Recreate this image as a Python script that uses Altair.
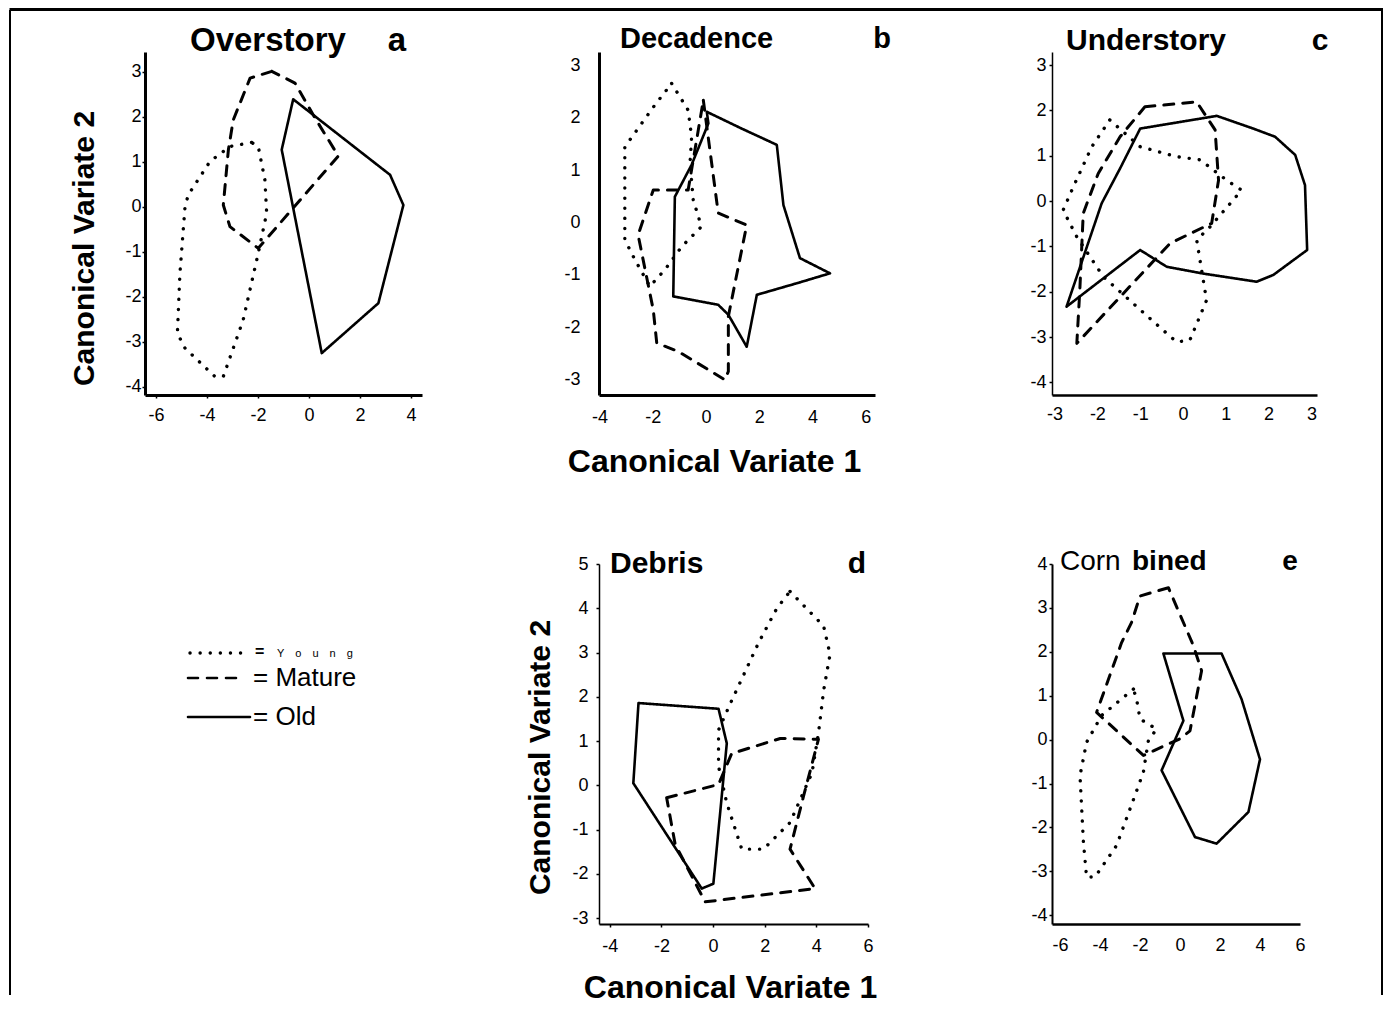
import altair as alt
import pandas as pd

FONT = "Liberation Sans"
GROUPS = ["Young", "Mature", "Old"]

# ---------------- data ----------------
# a  Overstory
a_young_x = [-2.25, -3.10, -3.88, -4.73, -4.86, -5.06, -5.16, -4.86, -3.69, -3.36, -2.58, -1.99, -1.66, -1.73, -1.99]
a_young_y = [1.43, 1.34, 1.01, 0.27, 0.01, -1.47, -2.81, -3.14, -3.77, -3.77, -2.51, -1.03, -0.14, 0.60, 1.34]
a_mature_x = [-1.46, -2.31, -2.97, -3.16, -3.36, -3.10, -1.99, 1.15, 0.24, -0.55]
a_mature_y = [3.01, 2.86, 1.93, 1.27, 0.04, -0.44, -0.92, 1.13, 1.97, 2.75]
a_old_x = [-0.62, 3.18, 3.70, 2.72, 0.50, -1.07]
a_old_y = [2.39, 0.71, 0.04, -2.14, -3.25, 1.27]

# b  Decadence
b_young_x = [-1.29, -0.67, -0.54, -0.60, -0.48, -0.17, -0.91, -1.54, -2.11, -2.67, -3.05, -3.05, -1.92]
b_young_y = [2.65, 2.14, 1.63, 1.13, 0.43, -0.08, -0.46, -0.90, -1.22, -0.71, -0.33, 1.44, 2.24]
b_mature_x = [-0.10, 0.46, 1.53, 0.84, 0.84, 0.71, -1.04, -1.85, -1.98, -2.55, -1.98, -0.67]
b_mature_y = [2.33, 0.18, -0.05, -1.79, -2.84, -3.00, -2.46, -2.30, -1.67, -0.24, 0.62, 0.62]
b_old_x = [0.03, 1.34, 2.66, 2.91, 3.53, 4.66, 3.41, 1.91, 1.53, 0.84, 0.46, -1.23, -1.17, -0.54, 0.09]
b_old_y = [2.11, 1.79, 1.48, 0.33, -0.68, -0.97, -1.16, -1.38, -2.37, -1.76, -1.57, -1.41, 0.49, 1.10, 1.89]

# c  Understory
c_young_x = [-1.71, -1.00, -0.15, 0.40, 1.02, 1.37, 0.63, 0.32, 0.55, 0.16, -0.15, -0.69, -1.86, -2.48, -2.80, -2.56, -2.13]
c_young_y = [1.79, 1.20, 0.98, 0.91, 0.46, 0.24, -0.57, -0.86, -2.19, -3.07, -3.11, -2.66, -1.67, -0.79, -0.20, 0.32, 1.20]
c_mature_x = [-0.89, 0.32, 0.75, 0.83, 0.67, -0.30, -2.48, -2.41, -2.33, -1.98, -1.47]
c_mature_y = [2.08, 2.19, 1.57, 0.46, -0.49, -0.93, -3.14, -1.96, -0.27, 0.61, 1.42]
c_old_x = [-1.00, 0.79, 1.64, 2.15, 2.62, 2.85, 2.90, 2.11, 1.72, 0.47, -0.38, -1.00, -2.72, -1.90, -1.47]
c_old_y = [1.60, 1.88, 1.60, 1.42, 1.02, 0.35, -1.08, -1.63, -1.78, -1.60, -1.45, -1.08, -2.33, -0.05, 0.72]

# d  Debris
d_young_x = [2.98, 4.28, 4.53, 4.28, 4.08, 3.83, 2.98, 1.95, 1.11, 0.53, 0.21, 0.21, 0.66, 1.76, 2.47]
d_young_y = [4.38, 3.60, 2.96, 2.14, 1.17, 0.28, -0.84, -1.44, -1.44, -0.40, 0.43, 1.25, 1.84, 3.22, 4.00]
d_mature_x = [-1.80, 0.21, 0.72, 2.60, 4.08, 3.50, 2.98, 3.95, -0.31, -1.47]
d_mature_y = [-0.28, 0.02, 0.72, 1.06, 1.04, -0.25, -1.44, -2.33, -2.63, -1.33]
d_old_x = [-2.89, 0.21, 0.53, 0.01, -0.44, -3.09]
d_old_y = [1.86, 1.73, 0.95, -2.22, -2.33, 0.05]

# e  Combined
e_young_x = [-2.33, -3.92, -4.67, -5.00, -4.83, -4.67, -4.25, -3.17, -2.25, -1.83, -1.58, -1.17, -2.00, -2.17]
e_young_y = [1.15, 0.55, -0.06, -0.82, -2.33, -3.13, -3.13, -2.41, -1.27, -0.74, -0.02, 0.24, 0.47, 0.92]
e_mature_x = [-0.58, -2.00, -2.42, -2.92, -4.17, -1.83, 0.00, 0.50, 1.08, 0.67]
e_mature_y = [3.46, 3.27, 2.67, 2.21, 0.62, -0.36, 0.02, 0.20, 1.57, 2.14]
e_old_x = [-0.83, 2.08, 3.08, 4.00, 3.42, 1.83, 0.75, -0.92, 0.17]
e_old_y = [1.96, 1.96, 0.92, -0.45, -1.65, -2.37, -2.22, -0.70, 0.43]

panel_titles = ["Overstory", "Decadence", "Understory", "Debris", "Combined"]
panel_letters = ["a", "b", "c", "d", "e"]
legend_labels = ["Young", "Mature", "Old"]
x_title = "Canonical Variate 1"
y_title = "Canonical Variate 2"

a_xticks = [-6, -4, -2, 0, 2, 4]
a_yticks = [-4, -3, -2, -1, 0, 1, 2, 3]
b_xticks = [-4, -2, 0, 2, 4, 6]
b_yticks = [-3, -2, -1, 0, 1, 2, 3]
c_xticks = [-3, -2, -1, 0, 1, 2, 3]
c_yticks = [-4, -3, -2, -1, 0, 1, 2, 3]
d_xticks = [-4, -2, 0, 2, 4, 6]
d_yticks = [-3, -2, -1, 0, 1, 2, 3, 4, 5]
e_xticks = [-6, -4, -2, 0, 2, 4, 6]
e_yticks = [-4, -3, -2, -1, 0, 1, 2, 3, 4]

DASHES = [[0.1, 10], [10, 9], [1, 0]]
WIDTHS = [3.4, 2.6, 2.6]


def poly_df(polys):
    rows = []
    for g, (xs, ys) in zip(GROUPS, polys):
        n = len(xs)
        for i in range(n + 1):
            rows.append({"g": g, "x": xs[i % n], "y": ys[i % n], "i": i})
    return pd.DataFrame(rows)


def one():
    return pd.DataFrame({"k": [0]})


def text_layer(t, x, y, size, weight="bold", align="left", baseline="middle"):
    return alt.Chart(pd.DataFrame({"t": [t]})).mark_text(
        align=align, baseline=baseline, font=FONT, fontSize=size,
        fontWeight=weight, color="black"
    ).encode(x=alt.value(x), y=alt.value(y), text="t:N")


def axis(values, dw, ts, lp, **kw):
    return alt.Axis(values=values, grid=False, domainColor="black", domainWidth=dw,
                    tickColor="black", tickWidth=1.5, tickSize=ts, ticks=ts > 0,
                    labelPadding=lp, labelColor="black", labelFont=FONT, labelFontSize=18,
                    labelFlush=False, labelOverlap=False,
                    labelExpr="toString(datum.value)",
                    titleFont=FONT, titleFontWeight="bold", titleColor="black", **kw)


def panel(polys, xdom, ydom, w, h, xax, yax, texts, extra=(), xt=None, yt=None):
    df = poly_df(polys)
    xk = dict(scale=alt.Scale(domain=xdom, nice=False, zero=False), axis=xax)
    yk = dict(scale=alt.Scale(domain=ydom, nice=False, zero=False), axis=yax)
    xk["title"] = xt if xt else None
    yk["title"] = yt if yt else None
    lines = alt.Chart(df).mark_line(color="black", strokeCap="round", strokeJoin="round").encode(
        x=alt.X("x:Q", **xk),
        y=alt.Y("y:Q", **yk),
        strokeDash=alt.StrokeDash("g:N", scale=alt.Scale(domain=GROUPS, range=DASHES), legend=None),
        strokeWidth=alt.StrokeWidth("g:N", scale=alt.Scale(domain=GROUPS, range=WIDTHS), legend=None),
        order="i:Q",
    )
    return alt.layer(lines, *texts, *extra).properties(width=w, height=h)


ytitle_kw = dict(titleFontSize=30, titleAngle=270, titleAlign="center", titleBaseline="bottom")
xtitle_kw = dict(titleFontSize=32, titleAlign="center", titleBaseline="top")

frame_a = [
    alt.Chart(one()).mark_rule(color="black", strokeWidth=3).encode(
        x=alt.value(-135.5), x2=alt.value(1238), y=alt.value(-42.5)),
    alt.Chart(one()).mark_rule(color="black", strokeWidth=2).encode(
        x=alt.value(-135), y=alt.value(-42), y2=alt.value(943)),
]
frame_c = [
    alt.Chart(one()).mark_rule(color="black", strokeWidth=2).encode(
        x=alt.value(330), y=alt.value(-42), y2=alt.value(943)),
]

pa = panel([(a_young_x, a_young_y), (a_mature_x, a_mature_y), (a_old_x, a_old_y)],
           [-6.43, 4.43], [-4.18, 3.44], 277, 343,
           axis(a_xticks, 3, 3, 8),
           axis(a_yticks, 3, 3, 1, titleX=-46, titleY=196, **ytitle_kw),
           [text_layer(panel_titles[0], 45, -11, 33),
            text_layer(panel_letters[0], 252, -11, 33, align="center")],
           extra=frame_a, yt=y_title)

pb = panel([(b_young_x, b_young_y), (b_mature_x, b_mature_y), (b_old_x, b_old_y)],
           [-4.02, 6.35], [-3.29, 3.25], 276, 343,
           axis(b_xticks, 3, 0, 13, titleX=115, titleY=51, **xtitle_kw),
           axis(b_yticks, 3, 0, 19),
           [text_layer(panel_titles[1], 21, -13, 29),
            text_layer(panel_letters[1], 283, -13, 29, align="center")],
           xt=x_title)

pc = panel([(c_young_x, c_young_y), (c_mature_x, c_mature_y), (c_old_x, c_old_y)],
           [-3.06, 3.13], [-4.28, 3.29], 265, 343,
           axis(c_xticks, 2.5, 0, 10),
           axis(c_yticks, 1.5, 3, 3),
           [text_layer(panel_titles[2], 14, -11, 30),
            text_layer(panel_letters[2], 268, -11, 30, align="center")],
           extra=frame_c)

pd_ = panel([(d_young_x, d_young_y), (d_mature_x, d_mature_y), (d_old_x, d_old_y)],
            [-4.42, 6.0], [-3.13, 5.0], 269, 360,
            axis(d_xticks, 2, 3, 10, titleX=131, titleY=48, **xtitle_kw),
            axis(d_yticks, 1.5, 3, 8, titleX=-44, titleY=193, **ytitle_kw),
            [text_layer(panel_titles[3], 11, 0, 30),
             text_layer(panel_letters[3], 258, 0, 30, align="center")],
            xt=x_title, yt=y_title)

pe = panel([(e_young_x, e_young_y), (e_mature_x, e_mature_y), (e_old_x, e_old_y)],
           [-6.4, 6.0], [-4.2, 4.0], 248, 360,
           axis(e_xticks, 2.5, 0, 12),
           axis(e_yticks, 2, 3, 2),
           [text_layer("Corn", 8, -2, 28, weight="normal"),
            text_layer("bined", 80, -2, 28),
            text_layer(panel_letters[4], 238, -2, 28, align="center")])


# legend cell
def leg_rule(x1, x2, y, dash, w):
    return alt.Chart(one()).mark_rule(color="black", strokeWidth=w, strokeDash=dash,
                                      strokeCap="round").encode(
        x=alt.value(x1), x2=alt.value(x2), y=alt.value(y))


young_spaced = "\u2003".join(list(legend_labels[0]))
legend = alt.layer(
    leg_rule(45, 100, 89, DASHES[0], 3.4),
    text_layer("=", 110, 88, 16),
    text_layer(young_spaced, 132, 90, 11, weight="normal"),
    leg_rule(43, 95, 114, DASHES[1], 2.6),
    text_layer("= " + legend_labels[1], 108, 114, 26, weight="normal"),
    leg_rule(43, 105, 153, DASHES[2], 2.6),
    text_layer("= " + legend_labels[2], 108, 153, 26, weight="normal"),
).properties(width=277, height=360)

chart = alt.concat(pa, pb, pc, legend, pd_, pe, columns=3).properties(
    bounds="flush", spacing={"row": 169, "column": 177}, padding=0, background="white"
).configure_view(stroke="transparent", strokeWidth=0)

chart.save("out.html", embed_options={"renderer": "svg", "actions": False})
